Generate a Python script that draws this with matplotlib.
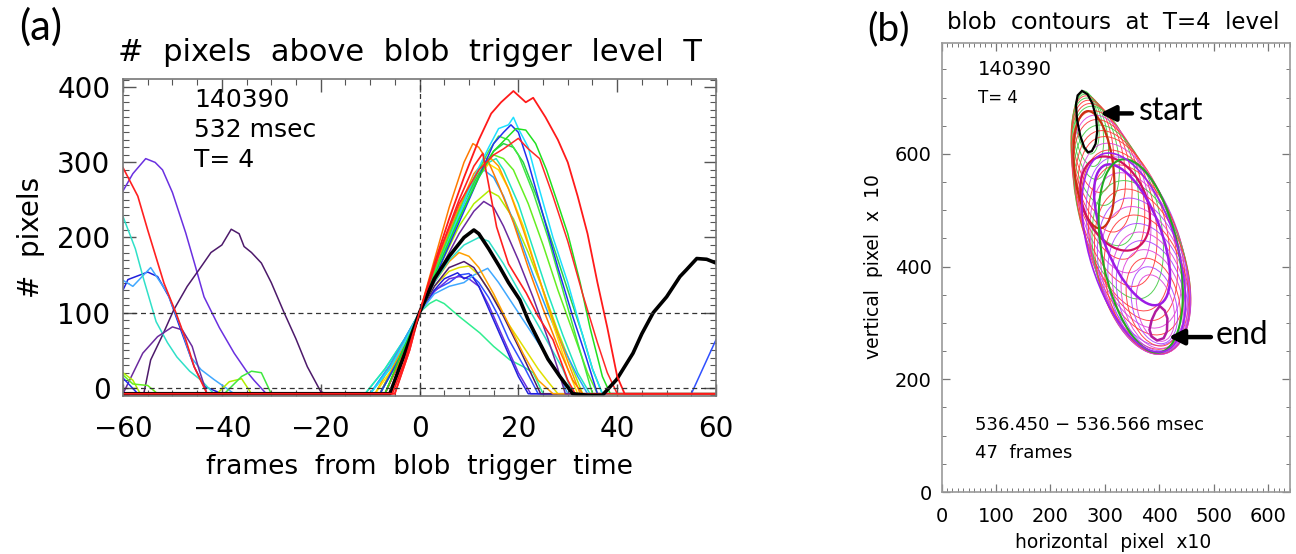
import matplotlib
matplotlib.use("Agg")
import matplotlib.pyplot as plt
import numpy as np
from matplotlib.patches import Ellipse, Polygon
from matplotlib.ticker import MultipleLocator

# ---------------- panel (a): # pixels above trigger level, (frame, pixels) ----------------
red_a = [(-60, -8), (-5.5, -8), (-3, 35), (0, 100), (3, 165), (6, 225), (9, 280), (12, 330), (14.5, 365),
         (16.5, 380), (19, 395), (21.5, 380), (23, 386), (25.5, 360), (28, 330), (30, 300), (32, 255),
         (34, 205), (36, 140), (38, 80), (40, 15), (41.5, -8), (60, -8)]
cyan_b = [(-60, -8), (-10, -8), (-6, 25), (-3, 60), (0, 100), (4, 165), (8, 230), (11, 280), (14, 320),
          (16, 345), (18, 350), (19, 360), (20, 345), (22, 320), (24, 270), (27, 200), (30, 140), (33, 70),
          (35, 25), (37, -8), (60, -8)]
blue_c = [(-60, 13), (-57, -8), (-8, -8), (-4, 40), (0, 100), (4, 160), (8, 220), (12, 280), (15, 325),
          (17, 340), (18.5, 350), (20, 340), (22, 300), (25, 230), (28, 160), (31, 95), (33.5, 45), (36, -8),
          (60, -8)]
green_d = [(-60, -8), (-7, -8), (-4, 40), (0, 100), (4, 165), (8, 225), (12, 280), (15, 315), (18, 335),
           (19.5, 345), (21.5, 343), (23.5, 325), (25.7, 290), (28, 245), (30, 205), (32.5, 140), (34.5, 80),
           (37, 15), (38.6, -8), (60, -8)]
green_e = [(-60, -8), (-39.5, -8), (-36, 15), (-34, 22), (-32, 20), (-30, -8), (-8, -8), (-4, 40), (0, 100),
           (4, 170), (8, 235), (12, 290), (14, 315), (16, 335), (18, 330), (20, 310), (23, 260), (26, 200),
           (29, 130), (32, 60), (35, -8), (60, -8)]
red_f = [(-60, -8), (-5, -8), (-2, 50), (0, 100), (4, 180), (8, 245), (12, 290), (15, 310), (17, 318),
         (20, 332), (22, 318), (24.3, 305), (27, 255), (30, 195), (33, 125), (36, 60), (38, 20), (40, -8),
         (60, -8)]
orange_g = [(-60, -8), (-7, -8), (-3, 50), (0, 100), (3, 170), (6, 240), (9, 300), (10.8, 325), (12, 320),
            (14, 300), (16, 270), (19, 220), (22, 160), (25, 105), (28, 55), (31, 10), (33, -8), (60, -8)]
red_h = [(-60, 293), (-57, 255), (-55, 210), (-51.7, 139), (-49.3, 100), (-47.3, 64), (-45.6, 28), (-43, -8),
         (-5, -8), (-2, 50), (0, 100), (4, 180), (8, 250), (11, 295), (12.8, 312), (14, 270), (15.6, 214),
         (18, 165), (21.6, 126), (24, 95), (27, 64), (30, 10), (31.5, -8), (60, -8)]
orange_i = [(-60, -8), (-8, -8), (-4, 45), (0, 100), (4, 175), (8, 240), (11, 285), (13, 300), (14.5, 305),
            (16, 295), (18, 265), (21, 210), (24, 150), (27, 90), (30, 35), (32.5, -8), (60, -8)]
yellow_j = [(-60, -8), (-9, -8), (-4, 40), (0, 100), (4, 170), (8, 235), (11, 275), (14, 298), (16, 290),
            (18, 265), (21, 215), (24, 150), (27, 85), (30, 25), (32, -8), (60, -8)]
lightblue_k = [(-60, -8), (-10, -8), (-6, 30), (-3, 65), (0, 100), (4, 165), (8, 230), (11, 275), (13, 290),
               (15, 280), (17, 255), (20, 205), (23, 150), (26, 100), (29, 55), (32, 15), (34, -8), (60, -8)]
green_l = [(-60, 17), (-58, 5), (-55, 3), (-53, -8), (-6, -8), (-3, 45), (0, 100), (4, 175), (8, 240),
           (12, 290), (15, 310), (17, 305), (19, 290), (22, 245), (25, 190), (28, 130), (31, 75), (34, 20),
           (36, -8), (60, -8)]
turq_m = [(-60, -8), (-11, -8), (-7, 25), (-3, 65), (0, 100), (4, 160), (8, 225), (11, 270), (14, 300),
          (15.5, 305), (17, 290), (20, 245), (23, 185), (26, 125), (29, 70), (32, 20), (34.5, -8), (60, -8)]
yellowgreen_n = [(-60, 20), (-58, 10), (-56.5, -8), (-41, -8), (-38.5, 8), (-36, 12), (-34, -8), (-8, -8),
                 (-4, 45), (0, 100), (4, 160), (8, 215), (11, 245), (14, 262), (16, 255), (19, 225), (22, 180),
                 (25, 130), (28, 75), (31, 25), (33, -8), (60, -8)]
purple_o = [(-60, -8), (-56, 46), (-53, 68), (-50, 81), (-48, 77), (-46, 55), (-44.6, 24), (-43, -8), (-7, -8),
            (-3, 50), (0, 100), (4, 155), (8, 205), (11, 235), (13, 248), (15, 240), (17, 215), (20, 170),
            (23, 120), (26, 65), (28, 25), (29.5, -8), (60, -8)]
turq_p = [(-60, 228), (-57.5, 185), (-55.8, 144), (-53.3, 88), (-51, 60), (-49.1, 41), (-46.5, 22), (-44.2, 10),
          (-41.6, -8), (-10, -8), (-6, 25), (-3, 60), (0, 100), (3, 140), (6, 170), (9, 190), (12, 200),
          (14, 195), (17, 165), (20, 130), (23, 95), (26, 60), (29, 25), (31, -8), (60, -8)]
orange_r = [(-60, -8), (-9, -8), (-5, 40), (0, 100), (3, 140), (6, 168), (8, 180), (10, 175), (12, 160),
            (15, 125), (18, 85), (21, 45), (24, 10), (27, -8), (60, -8)]
darkpurple_s = [(-60, -8), (-55.8, -8), (-54.4, 37), (-52, 70), (-49.7, 104), (-47, 135), (-44.2, 161),
                (-42.2, 180), (-40, 190), (-38.1, 211), (-36.5, 205), (-35.5, 188), (-34, 180), (-32, 166),
                (-30, 140), (-27.4, 100), (-25, 65), (-22.7, 28), (-20, -5), (-19, -8), (-7, -8), (-3, 50),
                (0, 100), (3, 135), (6, 160), (9, 168), (11, 160), (14, 130), (17, 95), (20, 55), (22.5, 20),
                (24.5, -8), (60, -8)]
yellow_t = [(-60, -8), (-8, -8), (-4, 45), (0, 100), (3, 135), (6, 155), (8, 160), (10, 162), (12, 150),
            (15, 120), (18, 85), (21, 55), (24, 25), (26, 8), (28, -8), (60, -8)]
blue_u = [(-60, 130), (-59, 144), (-55, 154), (-53, 148), (-50.7, 121), (-48.3, 77), (-45.6, 28), (-43.6, 2),
          (-40, -8), (-6, -8), (-3, 50), (0, 100), (3, 130), (5, 145), (7.7, 153), (9, 145), (10.5, 150),
          (12, 135), (14, 105), (16, 75), (18, 45), (20, 15), (22, -8), (60, -8)]
blue_v = [(-60, -8), (-8, -8), (-4, 45), (0, 100), (3, 130), (6, 140), (8, 150), (10, 152), (12, 140),
          (14, 120), (16, 95), (18, 65), (21, 30), (24, -8), (55, -8), (60, 64)]
lightblue_w = [(-60, 143), (-58, 135), (-54.4, 160), (-51, 126), (-48.3, 81), (-46.3, 41), (-44.2, 24),
               (-41.6, 11), (-37.5, -8), (-10, -8), (-6, 30), (-3, 65), (0, 100), (3, 125), (6, 135), (9, 140),
               (11, 150), (13.8, 159), (16, 140), (19, 110), (22, 80), (25, 50), (28, 20), (30, -8), (60, -8)]
springgreen_x = [(-60, -8), (-11, -8), (-7, 25), (-3, 65), (0, 100), (2, 112), (3.4, 117), (5, 112), (8, 95),
                 (12.2, 73), (15, 55), (18.3, 37), (21, 28), (23, 20), (25, -8), (60, -8)]
indigo_y = [(-60, 262), (-58, 285), (-55.4, 305), (-53.5, 300), (-52, 290), (-50, 260), (-47.3, 206),
            (-45.5, 165), (-43.6, 121), (-40.5, 80), (-37.5, 46), (-35, 22), (-33.5, 10), (-31, -8), (-7, -8),
            (-3, 50), (0, 100), (3, 128), (6, 145), (8, 148), (10, 145), (12, 135), (14, 110), (16, 80),
            (18, 50), (20, 20), (22.5, -8), (60, -8)]
green_z = [(-60, -8), (-8, -8), (-4, 40), (0, 100), (4, 170), (8, 235), (12, 285), (15, 315), (17, 325),
           (19, 320), (21, 300), (24, 250), (27, 190), (30, 130), (33, 70), (35, 25), (37, -8), (60, -8)]
black_q = [(-60, -8), (-6, -8), (-3, 45), (0, 100), (3, 145), (6, 175), (9, 200), (11, 210), (12, 205),
           (14, 185), (16.2, 161), (18, 140), (20.3, 117), (22, 90), (24.3, 60), (26, 38), (28.4, 15), (31, -8),
           (34, -10), (37, -10), (39.9, 11), (41.5, 28), (43.2, 46), (45, 72), (47.3, 100), (50, 121),
           (52.7, 148), (54, 157), (56.1, 172), (58.1, 171), (60, 166)]

curves_a = [
    (springgreen_x, "#30ee90", 1.1), (blue_v, "#3050ff", 1.1), (indigo_y, "#6a30e0", 1.1),
    (blue_u, "#2020dd", 1.1), (lightblue_w, "#40a8ff", 1.1), (yellow_t, "#e0e000", 1.1),
    (darkpurple_s, "#4d1a6b", 1.1), (orange_r, "#ffa000", 1.1), (turq_p, "#30e0c8", 1.1),
    (purple_o, "#6b2a9e", 1.1), (yellowgreen_n, "#b0ee00", 1.1), (turq_m, "#20e6c0", 1.1),
    (green_l, "#66ee22", 1.1), (lightblue_k, "#2aa0ff", 1.1), (yellow_j, "#ffe000", 1.1),
    (orange_i, "#ff9a00", 1.1), (orange_g, "#ff7a00", 1.1), (green_z, "#28d048", 1.1),
    (green_e, "#40e840", 1.1), (blue_c, "#2030f0", 1.1), (cyan_b, "#1ee0ff", 1.1),
    (green_d, "#20e020", 1.1), (red_f, "#ff2828", 1.1), (red_h, "#ff2020", 1.2),
    (black_q, "black", 2.6), (red_a, "#ff1a1a", 1.3),
]

# ---------------- panel (b): blob contours (pixel x10 units) ----------------
# thin frame contours: top end, bottom end, width, colour
contour_top = [(260, 712), (261, 709), (262, 706), (263, 703), (264, 699), (266, 695), (268, 689), (270, 684),
               (272, 676), (275, 668), (277, 660), (281, 650), (284, 640), (288, 629), (292, 617), (296, 605),
               (308, 593), (313, 579), (317, 565), (322, 551), (327, 536), (332, 520), (337, 505), (342, 490),
               (348, 475), (353, 460), (358, 445), (363, 429), (368, 414), (373, 399), (378, 385)]
contour_bot = [(275, 600), (280, 578), (286, 555), (293, 532), (301, 509), (310, 486), (320, 462), (330, 438),
               (340, 414), (350, 390), (360, 366), (370, 344), (382, 323), (396, 306), (403, 293), (408, 281),
               (410, 262), (411, 255), (412, 250), (412, 248), (412, 246), (412, 246), (412, 246), (412, 247),
               (412, 248), (412, 250), (411, 252), (411, 256), (410, 260), (409, 264), (408, 268)]
contour_wid = [42, 52, 62, 72, 82, 92, 102, 112, 120, 128, 136, 144, 150, 156, 160, 164, 164, 164, 164, 164,
               162, 158, 152, 146, 140, 130, 120, 108, 94, 80, 66]
contour_col = ["g", "g", "g", "r", "g", "r", "r", "g", "r", "m", "r", "g", "r", "r", "m", "r", "p", "r", "m",
               "g", "r", "p", "m", "r", "p", "m", "p", "m", "r", "p", "m"]
thin_colors = {"g": "#44cc44", "r": "#ff3838", "m": "#dd44dd", "p": "#aa44ff"}

# highlighted contours: top end, bottom end, width, colour
bold_top = [(268, 676), (282, 592), (300, 580), (330, 590), (296, 600)]
bold_bot = [(292, 468), (356, 432), (400, 333), (402, 248), (410, 250)]
bold_wid = [72, 115, 105, 140, 160]
bold_col = ["#c83010", "#d01060", "#9b1be6", "#22aa22", "#a020f0"]
bold_lw = [1.6, 1.6, 1.8, 1.5, 1.2]

start_x = [258, 268, 277, 284, 286, 283, 276, 269, 262, 255, 249, 247, 250]
start_y = [712, 706, 690, 665, 640, 618, 605, 603, 612, 632, 660, 688, 704]
end_x = [401, 410, 415, 414, 408, 396, 386, 382, 386, 393]
end_y = [330, 322, 308, 285, 273, 269, 276, 288, 305, 320]

IDL = "DejaVu Sans"
CAL = "Lato"

fig = plt.figure(figsize=(12.96, 5.54), dpi=100)

# ---- panel (a)
ax = fig.add_axes([0.0949, 0.2852, 0.4576, 0.5722])
for pts, col, lw in curves_a:
    f, v = np.array(pts).T
    ax.plot(f, v, color=col, lw=lw, solid_joinstyle="round")

ax.axhline(0, color="#333333", lw=0.9, ls=(0, (4, 3)))
ax.axhline(100, color="#333333", lw=0.9, ls=(0, (4, 3)))
ax.axvline(0, color="#333333", lw=0.9, ls=(0, (4, 3)))

ax.set_xlim(-60, 60)
ax.set_ylim(-11, 411)
ax.xaxis.set_major_locator(MultipleLocator(20))
ax.xaxis.set_minor_locator(MultipleLocator(5))
ax.yaxis.set_major_locator(MultipleLocator(100))
ax.yaxis.set_minor_locator(MultipleLocator(10))
ax.tick_params(which="both", direction="in", top=True, right=True, color="#555555", labelsize=20)
ax.tick_params(axis="x", pad=14)
ax.tick_params(axis="y", pad=9)
ax.tick_params(which="major", length=9, width=1)
ax.tick_params(which="minor", length=4.5, width=0.8)
for lab in ax.get_xticklabels() + ax.get_yticklabels():
    lab.set_family(IDL)
for sp in ax.spines.values():
    sp.set_color("#777777")
    sp.set_linewidth(1.2)

ax.text(-45.6, 383, "140390", fontsize=18, family=IDL, va="center")
ax.text(-45.6, 343, "532 msec", fontsize=18, family=IDL, va="center")
ax.text(-45.6, 303, "T= 4", fontsize=18, family=IDL, va="center")

fig.text(0.316, 0.906, "#  pixels  above  blob  trigger  level  T", fontsize=22, family=IDL,
         ha="center", va="center")
fig.text(0.324, 0.157, "frames  from  blob  trigger  time", fontsize=19, family=IDL,
         ha="center", va="center")
fig.text(0.024, 0.572, "#  pixels", fontsize=20, family=IDL, rotation=90, ha="center", va="center")
fig.text(0.015, 0.952, "(a)", fontsize=30, family=CAL, ha="left", va="center")

# ---- panel (b)
bx = fig.add_axes([0.7265, 0.1119, 0.2688, 0.8105])
for (tx, ty), (bx_, by_), w, c in zip(contour_top, contour_bot, contour_wid, contour_col):
    cx, cy = (tx + bx_) / 2, (ty + by_) / 2
    length = np.hypot(bx_ - tx, by_ - ty)
    ang = np.degrees(np.arctan2(by_ - ty, bx_ - tx))
    bx.add_patch(Ellipse((cx, cy), length, w, angle=ang, fill=False, ec=thin_colors[c], lw=0.7, alpha=0.9))

for (tx, ty), (bx_, by_), w, c, lw in zip(bold_top, bold_bot, bold_wid, bold_col, bold_lw):
    cx, cy = (tx + bx_) / 2, (ty + by_) / 2
    length = np.hypot(bx_ - tx, by_ - ty)
    ang = np.degrees(np.arctan2(by_ - ty, bx_ - tx))
    bx.add_patch(Ellipse((cx, cy), length, w, angle=ang, fill=False, ec=c, lw=lw))

bx.add_patch(Polygon(np.column_stack([start_x, start_y]), closed=True, fill=False, ec="black", lw=1.6))
bx.add_patch(Polygon(np.column_stack([end_x, end_y]), closed=True, fill=False, ec="#b01ca0", lw=1.8))

arrow = dict(arrowstyle="-|>,head_length=0.9,head_width=0.45", color="black", lw=3.2)
bx.annotate("", xy=(286, 672), xytext=(355, 672), arrowprops=arrow)
bx.text(362, 676, "start", fontsize=23, family=CAL, va="center")
bx.annotate("", xy=(412, 275), xytext=(500, 275), arrowprops=arrow)
bx.text(503, 279, "end", fontsize=23, family=CAL, va="center")

bx.text(67, 750, "140390", fontsize=14, family=IDL, va="center")
bx.text(67, 699, "T= 4", fontsize=12, family=IDL, va="center")
bx.text(61, 119, "536.450 \u2212 536.566 msec", fontsize=13, family=IDL, va="center")
bx.text(61, 69, "47  frames", fontsize=13, family=IDL, va="center")

bx.set_xlim(0, 640)
bx.set_ylim(0, 797)
bx.set_xticks([0, 100, 200, 300, 400, 500, 600])
bx.xaxis.set_minor_locator(MultipleLocator(10))
bx.set_yticks([0, 200, 400, 600])
bx.yaxis.set_minor_locator(MultipleLocator(50))
bx.tick_params(which="both", direction="in", top=True, right=True, color="#777777", labelsize=14)
bx.tick_params(axis="x", pad=11)
bx.tick_params(axis="y", pad=7)
bx.tick_params(which="major", length=6, width=0.9)
bx.tick_params(which="minor", length=3, width=0.7)
for lab in bx.get_xticklabels() + bx.get_yticklabels():
    lab.set_family(IDL)
for sp in bx.spines.values():
    sp.set_color("#999999")
    sp.set_linewidth(1.2)

fig.text(0.859, 0.96, "blob  contours  at  T=4  level", fontsize=16.5, family=IDL, ha="center", va="center")
fig.text(0.859, 0.02, "horizontal  pixel  x10", fontsize=13.5, family=IDL, ha="center", va="center")
fig.text(0.674, 0.518, "vertical  pixel  x  10", fontsize=13.5, family=IDL, rotation=90, ha="center",
         va="center")
fig.text(0.669, 0.948, "(b)", fontsize=28, family=CAL, ha="left", va="center")

fig.savefig("out.png", dpi=100)
